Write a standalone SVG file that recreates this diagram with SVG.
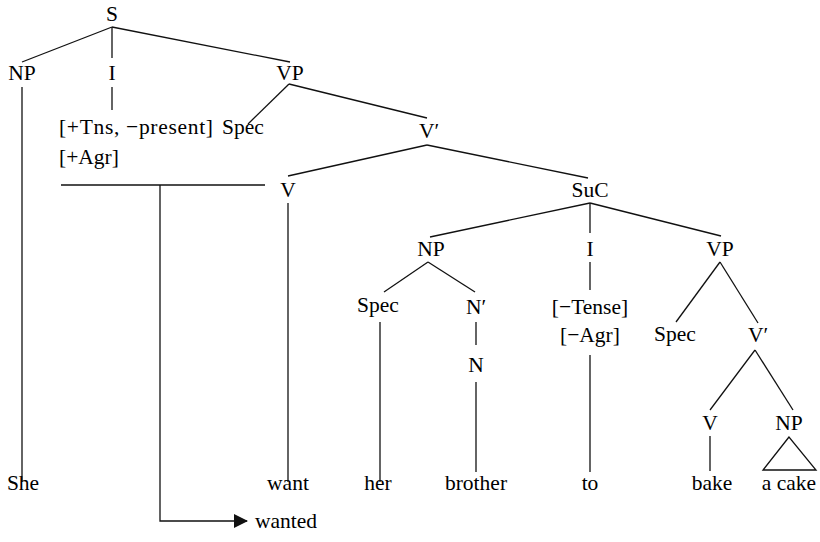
<svg xmlns="http://www.w3.org/2000/svg" width="820" height="542" viewBox="0 0 820 542">
<defs>
<style>
text{font-family:'Liberation Serif','Times New Roman',serif;font-size:21.5px;fill:#000;text-anchor:middle}
.l{text-anchor:start}
line,polyline,polygon.t{stroke:#111;stroke-width:1.3;fill:none}
</style>
<marker id="ah" markerWidth="14" markerHeight="14" refX="13" refY="7" orient="auto" markerUnits="userSpaceOnUse">
<polygon points="0,0 14,7 0,14" fill="#111"/>
</marker>
</defs>
<rect width="820" height="542" fill="#fff"/>
<g id="connectors">
<line x1="112" y1="27" x2="22" y2="62"/>
<line x1="112" y1="27" x2="112" y2="58"/>
<line x1="112" y1="27" x2="290" y2="62"/>
<line x1="22" y1="87" x2="22" y2="482"/>
<line x1="112" y1="87" x2="112" y2="110"/>
<line x1="289" y1="84" x2="248" y2="124"/>
<line x1="289" y1="84" x2="427" y2="118"/>
<line x1="427" y1="145" x2="288" y2="176"/>
<line x1="427" y1="145" x2="588" y2="178"/>
<line x1="61" y1="185" x2="265" y2="185"/>
<polyline points="160,185 160,521 247,521" marker-end="url(#ah)"/>
<line x1="288" y1="203" x2="288" y2="482"/>
<line x1="590" y1="203" x2="430" y2="237"/>
<line x1="590" y1="203" x2="590" y2="233"/>
<line x1="590" y1="203" x2="721" y2="236"/>
<line x1="428" y1="262" x2="384" y2="292"/>
<line x1="428" y1="262" x2="475" y2="292"/>
<line x1="380" y1="322" x2="380" y2="482"/>
<line x1="476" y1="322" x2="476" y2="345"/>
<line x1="476" y1="382" x2="476" y2="472"/>
<line x1="590" y1="262" x2="590" y2="290"/>
<line x1="590" y1="355" x2="590" y2="472"/>
<line x1="720" y1="262" x2="676" y2="322"/>
<line x1="720" y1="262" x2="758" y2="323"/>
<line x1="755" y1="350" x2="710" y2="410"/>
<line x1="755" y1="350" x2="793" y2="410"/>
<line x1="710" y1="436" x2="710" y2="471"/>
<polygon class="t" points="789,437 763,470 816,470"/>
</g>
<g id="n-S"><text x="112" y="21">S</text></g>
<g id="n-NP"><text x="22" y="80">NP</text></g>
<g id="n-I"><text x="112" y="80">I</text></g>
<g id="n-VP"><text x="290" y="80">VP</text></g>
<g id="n-Ifeat"><text class="l" x="59" y="134" textLength="154">[+Tns, −present]</text><text class="l" x="59" y="164">[+Agr]</text></g>
<g id="n-Spec1"><text x="243" y="134">Spec</text></g>
<g id="n-Vbar1"><text x="429" y="138">V′</text></g>
<g id="n-V1"><text x="288" y="197">V</text></g>
<g id="n-SuC"><text x="590" y="197">SuC</text></g>
<g id="n-NP2"><text x="431" y="256">NP</text></g>
<g id="n-I2"><text x="590" y="256">I</text></g>
<g id="n-VP2"><text x="720" y="256">VP</text></g>
<g id="n-Spec2"><text x="378" y="312">Spec</text></g>
<g id="n-Nbar"><text x="476" y="314">N′</text></g>
<g id="n-N"><text x="476" y="372">N</text></g>
<g id="n-I2feat"><text x="590" y="314">[−Tense]</text><text x="590" y="342">[−Agr]</text></g>
<g id="n-Spec3"><text x="675" y="341">Spec</text></g>
<g id="n-Vbar2"><text x="758" y="342">V′</text></g>
<g id="n-V3"><text x="710" y="430">V</text></g>
<g id="n-NP3"><text x="789" y="430">NP</text></g>
<g id="w-she"><text x="23" y="490">She</text></g>
<g id="w-want"><text x="288" y="490">want</text></g>
<g id="w-her"><text x="378" y="490">her</text></g>
<g id="w-brother"><text x="476" y="490">brother</text></g>
<g id="w-to"><text x="590" y="490">to</text></g>
<g id="w-bake"><text x="712" y="490">bake</text></g>
<g id="w-acake"><text x="789" y="490">a cake</text></g>
<g id="w-wanted"><text class="l" x="255" y="528">wanted</text></g>
</svg>
